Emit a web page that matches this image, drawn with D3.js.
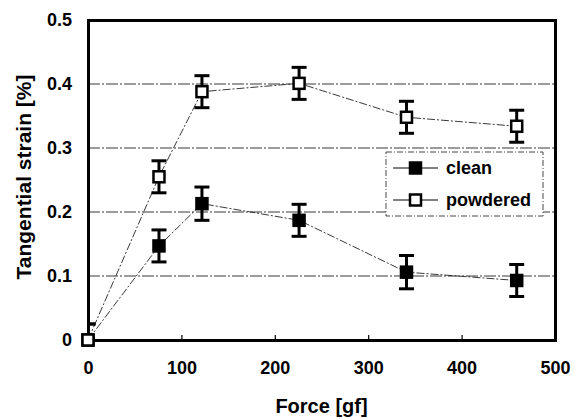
<!DOCTYPE html>
<html><head><meta charset="utf-8">
<script src="https://cdn.jsdelivr.net/npm/d3@7"></script>
<style>body{margin:0;background:#fff}svg{display:block}</style>
</head><body>
<script>
const force = [0, 76, 122, 226, 341, 459];
const cleanVals = [0, 0.147, 0.213, 0.187, 0.106, 0.093];
const cleanErr = [0.025, 0.025, 0.026, 0.025, 0.026, 0.025];
const powderedVals = [0, 0.255, 0.388, 0.401, 0.348, 0.334];
const powderedErr = [0.025, 0.025, 0.025, 0.025, 0.025, 0.025];
const xTicks = [0, 100, 200, 300, 400, 500];
const yTicks = [0, 0.1, 0.2, 0.3, 0.4, 0.5];
const seriesNames = ["clean", "powdered"];

const W = 574, H = 419;
const m = {l: 88, r: 19, t: 20, b: 79};
const svg = d3.select("body").append("svg").attr("width", W).attr("height", H)
  .attr("viewBox", `0 0 ${W} ${H}`);
svg.append("rect").attr("width", W).attr("height", H).attr("fill", "#fff");
const x = d3.scaleLinear().domain([0, 500]).range([m.l, W - m.r]);
const y = d3.scaleLinear().domain([0, 0.5]).range([H - m.b, m.t]);
const font = "Liberation Sans, Arial, sans-serif";
const pw = x(500) - x(0), ph = y(0) - y(0.5);

svg.append("defs").append("clipPath").attr("id", "clip")
  .append("rect").attr("x", x(0)).attr("y", y(0.5)).attr("width", pw).attr("height", ph + 1);

// gridlines
svg.append("g").selectAll("line").data(yTicks.filter(d => d > 0 && d < 0.5)).join("line")
  .attr("x1", x(0)).attr("x2", x(500)).attr("y1", d => y(d)).attr("y2", d => y(d))
  .attr("stroke", "#222").attr("stroke-width", 0.9).attr("stroke-dasharray", "12,2,2,2");

const series = [
  {name: seriesNames[0], vals: cleanVals, err: cleanErr, fill: "#000"},
  {name: seriesNames[1], vals: powderedVals, err: powderedErr, fill: "#fff"}
];
const line = d3.line().x((d, i) => x(force[i])).y(d => y(d));
const plot = svg.append("g").attr("clip-path", "url(#clip)");
series.forEach(s => {
  plot.append("path").attr("d", line(s.vals)).attr("fill", "none").attr("stroke", "#222")
    .attr("stroke-width", 0.9).attr("stroke-dasharray", "8,2,2,2");
});

// legend (white box covers gridlines)
const lg = svg.append("g");
lg.append("rect").attr("x", 386).attr("y", 152).attr("width", 157).attr("height", 64)
  .attr("fill", "#fff").attr("stroke", "#333").attr("stroke-width", 0.9).attr("stroke-dasharray", "6,2,1,2");
series.forEach((s, i) => {
  const yy = 168 + i * 32;
  lg.append("line").attr("x1", 393).attr("x2", 438).attr("y1", yy).attr("y2", yy).attr("stroke", "#000").attr("stroke-width", 1);
  lg.append("rect").attr("x", 410).attr("y", yy - 5.5).attr("width", 11).attr("height", 11)
    .attr("fill", s.fill).attr("stroke", "#000").attr("stroke-width", 2.5);
  lg.append("text").attr("x", 446).attr("y", yy).attr("dy", "0.35em").attr("font-family", font)
    .attr("font-size", 18).attr("font-weight", "bold").text(s.name);
});

series.forEach(s => {
  const g = plot.append("g");
  s.vals.forEach((v, i) => {
    const cx = x(force[i]);
    const hi = y(v + s.err[i]), lo = y(v - s.err[i]);
    g.append("line").attr("x1", cx).attr("x2", cx).attr("y1", hi).attr("y2", lo).attr("stroke", "#000").attr("stroke-width", 3);
    [hi, lo].forEach(yy => g.append("line").attr("x1", cx - 7.5).attr("x2", cx + 7.5).attr("y1", yy).attr("y2", yy).attr("stroke", "#000").attr("stroke-width", 3));
  });
});

// axes: all four sides, their domain paths form the frame
const styleAxis = ax => {
  ax.select(".domain").attr("stroke", "#000").attr("stroke-width", 3).attr("stroke-linecap", "square");
  ax.selectAll(".tick line").attr("stroke", "#000").attr("stroke-width", 1.2);
  ax.selectAll("text").attr("font-family", font).attr("font-size", 18).attr("font-weight", "bold").attr("fill", "#000");
};
svg.append("g").attr("transform", `translate(0,${y(0)})`)
  .call(d3.axisBottom(x).tickValues(xTicks).tickSizeInner(-5).tickSizeOuter(0).tickPadding(21).tickFormat(d3.format("d")))
  .call(styleAxis);
svg.append("g").attr("transform", `translate(${x(0)},0)`)
  .call(d3.axisLeft(y).tickValues(yTicks).tickSize(0).tickPadding(16).tickFormat(d => d === 0 ? "0" : d3.format(".1f")(d)))
  .call(styleAxis);
svg.append("g").attr("transform", `translate(0,${y(0.5)})`)
  .call(d3.axisTop(x).tickValues([]).tickSizeOuter(0))
  .call(styleAxis);
svg.append("g").attr("transform", `translate(${x(500)},0)`)
  .call(d3.axisRight(y).tickValues([]).tickSizeOuter(0))
  .call(styleAxis);

// markers on top
series.forEach(s => {
  svg.append("g").selectAll("rect").data(s.vals).join("rect")
    .attr("x", (d, i) => x(force[i]) - 5.5).attr("y", d => y(d) - 5.5).attr("width", 11).attr("height", 11)
    .attr("fill", s.fill).attr("stroke", "#000").attr("stroke-width", 2.5);
});

// axis titles
svg.append("text").attr("x", (x(0) + x(500)) / 2).attr("y", 413).attr("text-anchor", "middle")
  .attr("font-family", font).attr("font-size", 20).attr("font-weight", "bold").text("Force [gf]");
svg.append("text").attr("transform", `translate(31,${(y(0) + y(0.5)) / 2 - 3}) rotate(-90)`).attr("text-anchor", "middle")
  .attr("font-family", font).attr("font-size", 21).attr("font-weight", "bold").text("Tangential strain [%]");
</script>
</body></html>
